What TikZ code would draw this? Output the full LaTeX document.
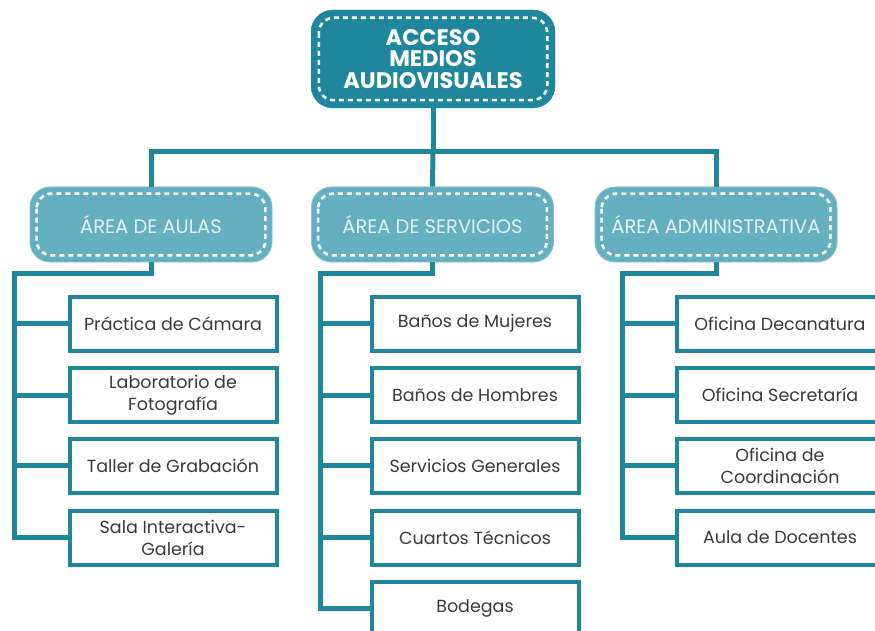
\documentclass[tikz,border=0pt]{standalone}
\usepackage{fontspec}
\setmainfont{Poppins}
\definecolor{teal1}{HTML}{1E879B}
\definecolor{teal2}{HTML}{64AFC0}
\definecolor{pale}{HTML}{E2F2F5}
\definecolor{txt}{HTML}{3A3A3A}
\begin{document}
\begin{tikzpicture}[x=1pt,y=-1pt,
  topbox/.style={draw=teal1, fill=teal1, rounded corners=22pt, minimum width=244pt, minimum height=98pt, text=white, font=\fontsize{22.5}{21.5}\selectfont\bfseries, align=center, inner sep=0pt},
  areabox/.style={draw=teal2!80!white, line width=0.8pt, fill=teal2, rounded corners=20pt, minimum width=242pt, minimum height=75pt, text=pale, font=\fontsize{19.5}{22}\selectfont, inner sep=0pt},
  itembox/.style={draw=teal1, line width=4pt, fill=white, minimum width=207pt, minimum height=54pt, text=txt, font=\fontsize{17.5}{22}\selectfont, align=center, inner sep=0pt},
  dashinner/.style={draw=white, line width=2.6pt, dash pattern=on 5pt off 4pt, rounded corners=15pt},
  conn/.style={draw=teal1, line width=5pt, line join=miter}]
\useasboundingbox (0,0) rectangle (875,631);
% top
\node[topbox] (top) at (433,59) {ACCESO\\MEDIOS\\AUDIOVISUALES};
\draw[dashinner] ([shift={(8,8)}]top.north west) rectangle ([shift={(-8,-8)}]top.south east);
% areas
\node[areabox] (aulas) at (151,224.5) {ÁREA DE AULAS};
\node[areabox] (serv) at (432.5,224.5) {ÁREA DE SERVICIOS};
\node[areabox] (admin) at (716,224.5) {ÁREA ADMINISTRATIVA};
\foreach \n in {aulas,serv,admin}{
  \draw[dashinner] ([shift={(7,7)}]\n.north west) rectangle ([shift={(-7,-7)}]\n.south east);
}
% top connectors
\coordinate (bus) at (433,152);
\draw[conn] (top.south) -- (bus);
\draw[conn] (aulas.north) |- (bus) -| (admin.north);
\draw[conn] (bus) -- (serv.north);
% items aulas
\node[itembox] (a1) at (173,323.5) {Práctica de Cámara};
\node[itembox] (a2) at (173,395) {Laboratorio de\\Fotografía};
\node[itembox] (a3) at (173,465.5) {Taller de Grabación};
\node[itembox] (a4) at (173,537.5) {Sala Interactiva-\\Galería};
% items servicios
\node[itembox] (s1) at (475,323.5) {Baños de Mujeres};
\node[itembox] (s2) at (475,395) {Baños de Hombres};
\node[itembox] (s3) at (475,465.5) {Servicios Generales};
\node[itembox] (s4) at (475,537.5) {Cuartos Técnicos};
\node[itembox] (s5) at (475,608.5) {Bodegas};
% items admin
\node[itembox] (d1) at (780,323.5) {Oficina Decanatura};
\node[itembox] (d2) at (780,395) {Oficina Secretaría};
\node[itembox] (d3) at (780,465.5) {Oficina de\\Coordinación};
\node[itembox] (d4) at (780,537.5) {Aula de Docentes};
% trunks
\coordinate (ta) at (14,273);
\coordinate (ts) at (320,273);
\coordinate (td) at (622,273);
\draw[conn] (aulas.south) |- (ta) -- (ta |- a4.west) -- (a4.west);
\foreach \i in {a1,a2,a3} \draw[conn] (ta |- \i.west) -- (\i.west);
\draw[conn] (serv.south) |- (ts) -- (ts |- s5.west) -- (s5.west);
\foreach \i in {s1,s2,s3,s4} \draw[conn] (ts |- \i.west) -- (\i.west);
\draw[conn] (admin.south) |- (td) -- (td |- d4.west) -- (d4.west);
\foreach \i in {d1,d2,d3} \draw[conn] (td |- \i.west) -- (\i.west);
\end{tikzpicture}
\end{document}
